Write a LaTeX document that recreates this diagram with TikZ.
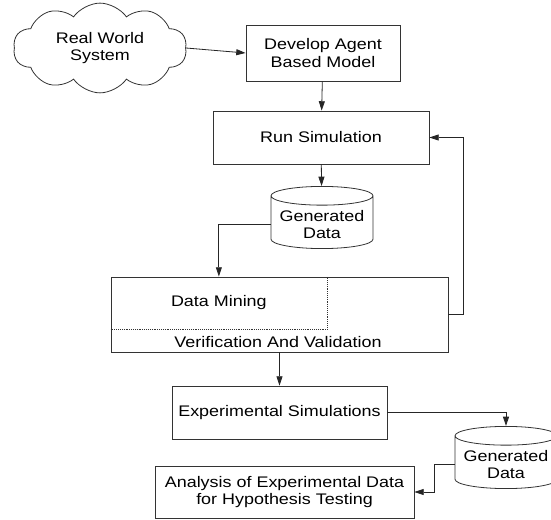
\documentclass[tikz,border=0pt]{standalone}
\usepackage{fontspec}
\setmainfont{Liberation Sans}[FakeStretch=1.17]
\usepackage{tikz}
\usetikzlibrary{shapes.geometric, shapes.symbols, arrows.meta, positioning, calc}
\tikzstyle{block} = [rectangle, minimum width=115.5pt, minimum height=42pt,
    text centered, align=center, draw=black!80, line width=0.6pt]
\tikzstyle{datastore} = [cylinder, shape border rotate=90, aspect=0.2,
    minimum width=76.5pt, minimum height=45.75pt, align=center,
    draw=black!80, line width=0.6pt, anchor=shape center]
\tikzstyle{cloudblock} = [cloud, cloud puffs=10, cloud puff arc=110,
    cloud ignores aspect, minimum width=130pt, inner ysep=7pt,
    align=center, draw=black!80, line width=0.6pt]
\tikzstyle{arrow} = [line width=0.6pt, draw=black!85,
    -{Triangle[length=7pt,width=4.5pt]}]

\begin{document}
\begin{tikzpicture}[x=0.75pt, y=-0.75pt,
    font=\fontsize{11.5pt}{13pt}\selectfont]
  \useasboundingbox (0,0) rectangle (551,520);
  \node[cloudblock](rws) at (100,48){Real World\\System};
  \node[block](dev) at (323,53){Develop Agent\\Based Model};
  \node[block, minimum width=162pt, minimum height=39.75pt](run) at (321,137.5)
    {Run Simulation};
  \node[datastore](gd1) at (322,217.5){Generated\\Data};
  \node[block, minimum width=252.75pt, minimum height=56.25pt](vv) at (279.5,314.5){};
  \node[minimum width=162pt, minimum height=39pt, inner sep=0pt,
    anchor=north west](dm) at (vv.north west){Data Mining};
  \draw[densely dotted, black!80](dm.south west) -- (dm.south east) -- (dm.north east);
  \node[anchor=north, inner sep=0pt](vvtext) at ($(dm.south -| vv.south)+(-1.5,7)$)
    {Verification And Validation};
  \node[block, minimum width=161.25pt, minimum height=39.75pt](exp) at (279.5,412.5)
    {Experimental Simulations};
  \node[datastore](gd2) at (506,457.5){Generated\\Data};
  \node[block, minimum width=194.25pt, minimum height=39pt](ana) at (284.5,492)
    {Analysis of Experimental Data\\for Hypothesis Testing};

  \draw[arrow](rws.east) -- (dev.west);
  \draw[arrow](dev) -- (run);
  \draw[arrow](run) -- (gd1);
  \draw[arrow](gd1.west) -| (dm.north);
  \draw[arrow](vv.east) -- ++(15,0) |- (run.east);
  \draw[arrow](vv) -- (exp);
  \draw[arrow](exp.east) -| (gd2.north);
  \draw[arrow](gd2.west) -- ++(-20,0) |- (ana.east);
\end{tikzpicture}
\end{document}
